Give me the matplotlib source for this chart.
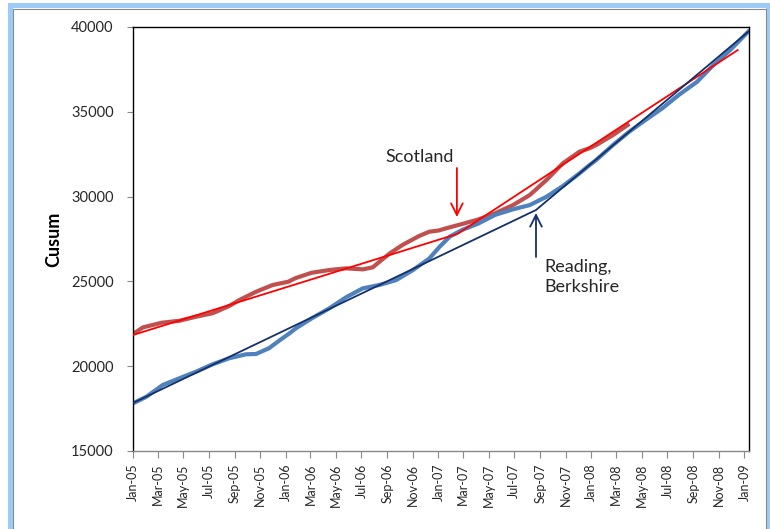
import numpy as np
import matplotlib
matplotlib.use('Agg')
import matplotlib.pyplot as plt
import matplotlib.dates as mdates
from matplotlib.patches import Rectangle
from matplotlib.lines import Line2D

FONT = 'Lato'
plt.rcParams['font.family'] = [FONT, 'DejaVu Sans']

# cumulative sums
scotland_dates = ['2005-01-01', '2005-01-25', '2005-03-10', '2005-04-22', '2005-06-01',
                  '2005-07-10', '2005-08-19', '2005-09-12', '2005-10-22', '2005-12-01',
                  '2006-01-07', '2006-01-25', '2006-03-04', '2006-04-15', '2006-05-25',
                  '2006-07-04', '2006-07-28', '2006-08-13', '2006-09-07', '2006-10-07',
                  '2006-11-16', '2006-12-10', '2007-01-01', '2007-01-19', '2007-02-26',
                  '2007-04-07', '2007-05-16', '2007-06-28', '2007-08-07', '2007-09-16',
                  '2007-10-25', '2007-12-04', '2007-12-28', '2008-01-13', '2008-02-22',
                  '2008-03-28']
scotland_cusum = [21900, 22290, 22560, 22680, 22920,
                  23120, 23550, 23900, 24390, 24790,
                  24980, 25200, 25510, 25670, 25770,
                  25710, 25830, 26160, 26660, 27150,
                  27680, 27930, 28000, 28130, 28380,
                  28660, 29010, 29500, 30090, 30980,
                  31960, 32650, 32850, 33040, 33630,
                  34220]

reading_dates = ['2005-01-01', '2005-02-02', '2005-03-13', '2005-04-22', '2005-06-01',
                 '2005-07-10', '2005-08-19', '2005-09-28', '2005-10-22', '2005-11-22',
                 '2005-12-16', '2006-01-10', '2006-01-25', '2006-03-04', '2006-04-15',
                 '2006-05-25', '2006-07-04', '2006-08-13', '2006-09-22', '2006-11-01',
                 '2006-12-10', '2007-01-04', '2007-01-28', '2007-02-26', '2007-04-07',
                 '2007-05-16', '2007-06-28', '2007-08-07', '2007-09-16', '2007-10-25',
                 '2007-12-04', '2007-12-28', '2008-01-13', '2008-02-22', '2008-04-01',
                 '2008-05-10', '2008-06-19', '2008-07-28', '2008-09-10', '2008-10-19',
                 '2008-11-28', '2009-01-10']
reading_cusum = [17810, 18200, 18890, 19290, 19680,
                 20110, 20470, 20700, 20720, 21060,
                 21500, 21940, 22230, 22820, 23410,
                 24060, 24590, 24790, 25080, 25670,
                 26350, 27050, 27640, 28030, 28420,
                 28920, 29250, 29500, 29990, 30620,
                 31370, 31860, 32160, 33040, 33830,
                 34520, 35210, 35990, 36770, 37760,
                 38640, 39720]

# piecewise trend lines
scotland_trend_dates = ['2005-01-01', '2007-02-15', '2008-12-16']
scotland_trend = [21840, 27800, 38640]
reading_trend_dates = ['2005-01-01', '2007-08-22', '2009-01-10']
reading_trend = [17830, 29210, 39720]

SCOTLAND_COLOR = '#C0504D'
READING_COLOR = '#4F81BD'
SCOTLAND_TREND_COLOR = '#FF0000'
READING_TREND_COLOR = '#14306A'
FRAME_BLUE = '#9CCBF6'
TEXT_COLOR = '#262626'
TICK_COLOR = '#888888'


def to_dates(values):
    return np.array(values, dtype='datetime64[D]')


def draw_frame(fig):
    w, h = fig.get_size_inches() * fig.dpi
    # light blue window frame
    fig.patches.append(Rectangle((8 / w, 0), 4.5 / w, 1 - 3 / h, transform=fig.transFigure,
                                 color=FRAME_BLUE, lw=0))
    fig.patches.append(Rectangle((8 / w, 1 - 8 / h), (770 - 8) / w, 5 / h, transform=fig.transFigure,
                                 color=FRAME_BLUE, lw=0))
    fig.patches.append(Rectangle((766 / w, 0), 4 / w, 1 - 3 / h, transform=fig.transFigure,
                                 color=FRAME_BLUE, lw=0))
    # thin grey inner border
    fig.lines.append(Line2D([12.8 / w, 12.8 / w], [0, 1 - 8.5 / h], transform=fig.transFigure,
                            color='#8A8A8A', lw=0.8))
    fig.lines.append(Line2D([12.8 / w, 765.5 / w], [1 - 8.5 / h, 1 - 8.5 / h], transform=fig.transFigure,
                            color='#8A8A8A', lw=0.8))
    fig.lines.append(Line2D([765.5 / w, 765.5 / w], [0, 1 - 8.5 / h], transform=fig.transFigure,
                            color='#8A8A8A', lw=0.8))


def main():
    fig = plt.figure(figsize=(7.70, 5.29), dpi=100)
    fig.patch.set_facecolor('white')
    ax = fig.add_axes([133 / 770, 1 - 451 / 529, (749 - 133) / 770, (451 - 27) / 529])

    ax.plot(to_dates(scotland_dates), scotland_cusum, color=SCOTLAND_COLOR, lw=3.0,
            solid_joinstyle='round', zorder=2)
    ax.plot(to_dates(reading_dates), reading_cusum, color=READING_COLOR, lw=3.0,
            solid_joinstyle='round', zorder=2)
    ax.plot(to_dates(scotland_trend_dates), scotland_trend, color=SCOTLAND_TREND_COLOR, lw=1.3, zorder=3)
    ax.plot(to_dates(reading_trend_dates), reading_trend, color=READING_TREND_COLOR, lw=1.3, zorder=3)

    ax.set_xlim(np.datetime64('2005-01-01'), np.datetime64('2009-01-12'))
    ax.set_ylim(15000, 40000)
    ax.set_yticks(np.arange(15000, 40001, 5000))

    ax.xaxis.set_major_locator(mdates.MonthLocator(bymonth=[1, 3, 5, 7, 9, 11]))
    ax.xaxis.set_major_formatter(mdates.DateFormatter('%b-%y'))
    plt.setp(ax.get_xticklabels(), rotation=90, fontsize=9, color=TEXT_COLOR)
    plt.setp(ax.get_yticklabels(), fontsize=10.5, color=TEXT_COLOR)
    ax.tick_params(axis='x', length=5, width=0.8, color=TICK_COLOR, pad=4)
    ax.tick_params(axis='y', length=4, width=0.8, color=TICK_COLOR, pad=10)

    for side in ['left', 'top', 'right']:
        ax.spines[side].set_color('black')
        ax.spines[side].set_linewidth(1.0)
    ax.spines['bottom'].set_color(TICK_COLOR)
    ax.spines['bottom'].set_linewidth(1.0)

    ax.set_ylabel('Cusum', fontsize=13, fontweight='bold', color='black', labelpad=6)

    # annotations
    ax.text(np.datetime64('2006-11-16'), 32334, 'Scotland', fontsize=13, ha='center', va='center',
            color=TEXT_COLOR)
    ax.annotate('', xy=(np.datetime64('2007-02-14'), 28797), xytext=(np.datetime64('2007-02-14'), 31686),
                arrowprops=dict(arrowstyle='->,head_length=0.7,head_width=0.35', color=SCOTLAND_TREND_COLOR,
                                lw=1.3, shrinkA=0, shrinkB=0, mutation_scale=12))
    ax.text(np.datetime64('2007-09-10'), 25259, 'Reading,\nBerkshire', fontsize=13, ha='left', va='center',
            color=TEXT_COLOR, linespacing=1.3)
    ax.annotate('', xy=(np.datetime64('2007-08-22'), 29033), xytext=(np.datetime64('2007-08-22'), 26438),
                arrowprops=dict(arrowstyle='->,head_length=0.7,head_width=0.35', color=READING_TREND_COLOR,
                                lw=1.3, shrinkA=0, shrinkB=0, mutation_scale=12))

    draw_frame(fig)
    fig.savefig('out.png', dpi=100, facecolor='white')


if __name__ == '__main__':
    main()
